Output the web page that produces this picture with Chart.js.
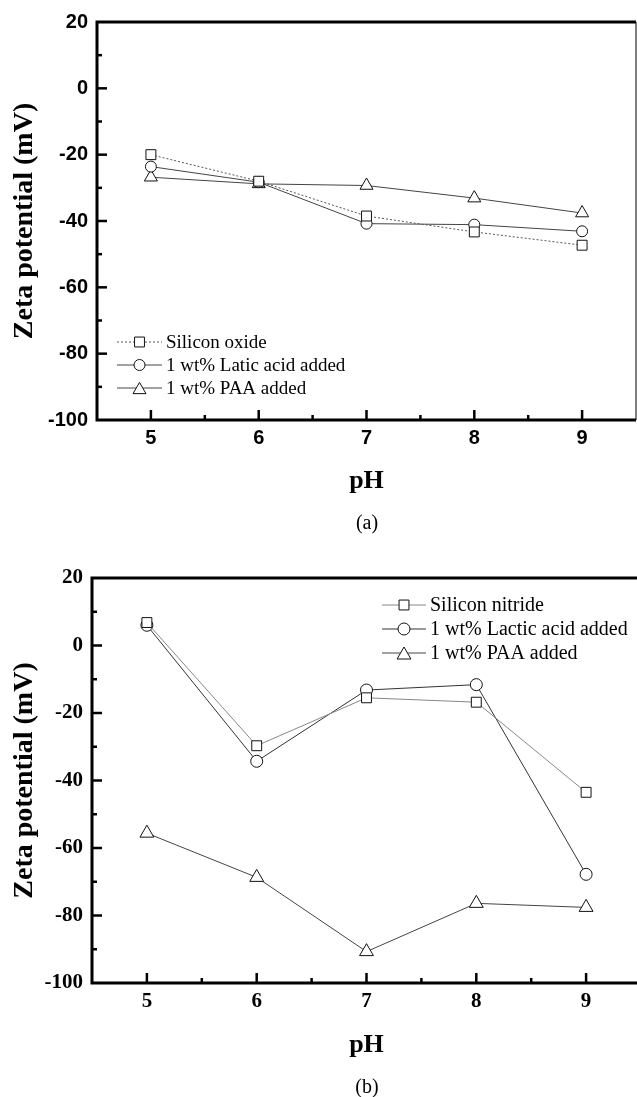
<!DOCTYPE html>
<html>
<head>
<meta charset="utf-8">
<script src="https://cdn.jsdelivr.net/npm/chart.js@4/dist/chart.umd.min.js"></script>
<style>
  html, body { margin: 0; padding: 0; background: #fff; overflow: hidden; }
  canvas { position: absolute; left: 0; }
  #chartA { top: 0; }
  #chartB { top: 556px; }
  .cap { position: absolute; width: 100px; text-align: center; font-family: "Liberation Serif"; font-size: 20px; line-height: 24px; color: #000; }
</style>
</head>
<body>
<canvas id="chartA" width="645" height="540"></canvas>
<canvas id="chartB" width="650" height="541"></canvas>
<div class="cap" style="left:317px; top:510px;">(a)</div>
<div class="cap" style="left:317px; top:1074px;">(b)</div>
<script>
// pH values (x)
const phValues = [5, 6, 7, 8, 9];

// (a) silicon oxide
const oxideBare = [-20, -28, -38.5, -43.3, -47.3];
const oxideLactic = [-23.6, -28.3, -40.8, -41.1, -43.1];
const oxidePAA = [-26.8, -28.8, -29.3, -33.1, -37.6];

// (b) silicon nitride
const nitrideBare = [6.8, -29.7, -15.5, -16.8, -43.5];
const nitrideLactic = [6.0, -34.3, -13.2, -11.6, -67.8];
const nitridePAA = [-55.6, -68.7, -90.7, -76.4, -77.6];

const namesA = ['Silicon oxide', '1 wt% Latic acid added', '1 wt% PAA added'];
const namesB = ['Silicon nitride', '1 wt% Lactic acid added', '1 wt% PAA added'];

// labelled ticks
const phTicks = [5, 6, 7, 8, 9];
const zetaTicks = [20, 0, -20, -40, -60, -80, -100];

function series(label, values, style, radius, color, dash) {
  return {
    label: label,
    data: phValues.map((x, i) => ({ x: x, y: values[i] })),
    showLine: true,
    tension: 0,
    borderColor: color,
    borderWidth: 1,
    borderDash: dash || [],
    pointStyle: style,
    pointRadius: radius,
    pointHoverRadius: radius,
    pointBorderColor: '#111',
    pointBackgroundColor: '#fff',
    pointBorderWidth: 1
  };
}

// marker used in the legend rows
function marker(ctx, style, r, cx, cy) {
  ctx.beginPath();
  if (style === 'rect') {
    const h = r * Math.SQRT1_2;
    ctx.rect(cx - h, cy - h, 2 * h, 2 * h);
  } else if (style === 'circle') {
    ctx.arc(cx, cy, r, 0, Math.PI * 2);
  } else {
    cy += r / 4;
    ctx.moveTo(cx, cy - r);
    ctx.lineTo(cx + r * 0.866, cy + r / 2);
    ctx.lineTo(cx - r * 0.866, cy + r / 2);
    ctx.closePath();
  }
  ctx.fill();
  ctx.stroke();
}

// frame and inward ticks
const frameTicks = {
  id: 'frameTicks',
  afterDraw(chart) {
    const { ctx, chartArea: a, scales: { x, y } } = chart;
    ctx.save();
    ctx.strokeStyle = '#000';
    ctx.lineWidth = 2.5;
    y.ticks.forEach(t => {
      if (t.value <= y.min || t.value >= y.max) return;
      const py = y.getPixelForValue(t.value);
      const len = zetaTicks.includes(t.value) ? 10 : 5;
      ctx.beginPath();
      ctx.moveTo(a.left, py);
      ctx.lineTo(a.left + len, py);
      ctx.stroke();
    });
    x.ticks.forEach(t => {
      if (t.value <= x.min || t.value >= x.max) return;
      const px = x.getPixelForValue(t.value);
      const len = phTicks.includes(t.value) ? 10 : 5;
      ctx.beginPath();
      ctx.moveTo(px, a.bottom);
      ctx.lineTo(px, a.bottom - len);
      ctx.stroke();
    });
    // thin right side, thick left / top / bottom
    ctx.lineWidth = 1;
    ctx.beginPath();
    ctx.moveTo(a.right, a.top);
    ctx.lineTo(a.right, a.bottom);
    ctx.stroke();
    ctx.lineWidth = 3;
    ctx.beginPath();
    ctx.moveTo(a.right, a.top);
    ctx.lineTo(a.left, a.top);
    ctx.lineTo(a.left, a.bottom);
    ctx.lineTo(a.right, a.bottom);
    ctx.stroke();
    ctx.restore();
  }
};

// legend drawn inside the plot: line - marker - line, then text
const insideLegend = {
  id: 'insideLegend',
  afterDatasetsDraw(chart, args, opts) {
    const ctx = chart.ctx;
    ctx.save();
    chart.data.datasets.forEach((ds, i) => {
      const y = opts.y + i * opts.gap;
      ctx.strokeStyle = ds.borderColor;
      ctx.lineWidth = 1;
      ctx.setLineDash(ds.borderDash);
      ctx.beginPath();
      ctx.moveTo(opts.x, y);
      ctx.lineTo(opts.x + opts.lineLen, y);
      ctx.stroke();
      ctx.setLineDash([]);
      ctx.fillStyle = '#fff';
      ctx.strokeStyle = '#111';
      marker(ctx, ds.pointStyle, ds.pointRadius, opts.x + opts.lineLen / 2, y);
      ctx.fillStyle = '#000';
      ctx.font = opts.font;
      ctx.textBaseline = 'middle';
      ctx.fillText(ds.label, opts.x + opts.lineLen + 4, y + 1);
    });
    ctx.restore();
  }
};

function makeChart(id, datasets, cfg) {
  return new Chart(document.getElementById(id), {
    type: 'scatter',
    data: { datasets: datasets },
    options: {
      responsive: false,
      animation: false,
      events: [],
      layout: { padding: cfg.padding },
      plugins: {
        legend: { display: false },
        tooltip: { enabled: false },
        insideLegend: cfg.legend
      },
      scales: {
        x: {
          type: 'linear',
          min: 4.5,
          max: 9.5,
          grid: { display: false, drawTicks: false },
          border: { display: false },
          ticks: {
            stepSize: 0.5,
            autoSkip: false,
            maxRotation: 0,
            padding: cfg.xPad,
            color: '#000',
            font: cfg.tickFont,
            callback: v => phTicks.includes(v) ? v : ''
          },
          title: {
            display: true,
            text: 'pH',
            color: '#000',
            font: { family: 'Liberation Serif', size: 26, weight: 'bold' },
            padding: { top: 0, bottom: cfg.xTitlePad }
          },
          afterFit: s => { s.height = cfg.xHeight; }
        },
        y: {
          min: -100,
          max: 20,
          grid: { display: false, drawTicks: false },
          border: { display: false },
          ticks: {
            stepSize: 10,
            autoSkip: false,
            padding: 9,
            color: '#000',
            font: cfg.tickFont,
            callback: v => zetaTicks.includes(v) ? v : ''
          },
          title: {
            display: true,
            text: 'Zeta potential (mV)',
            color: '#000',
            font: { family: 'Liberation Serif', size: 28, weight: 'bold' },
            padding: { top: cfg.yTitlePad, bottom: 0 }
          },
          afterFit: s => { s.width = cfg.yWidth; }
        }
      }
    },
    plugins: [frameTicks, insideLegend]
  });
}

makeChart('chartA', [
  series(namesA[0], oxideBare, 'rect', 7, '#555', [2, 2]),
  series(namesA[1], oxideLactic, 'circle', 5.5, '#444'),
  series(namesA[2], oxidePAA, 'triangle', 7.5, '#444')
], {
  padding: { left: 0, top: 22, right: 9, bottom: 40 },
  yWidth: 97,
  xHeight: 80,
  xPad: 6,
  xTitlePad: 3,
  yTitlePad: 8,
  tickFont: { family: 'Liberation Sans', size: 20, weight: 'bold' },
  legend: { x: 117, y: 342, gap: 23, lineLen: 45, font: '19px "Liberation Serif"' }
});

makeChart('chartB', [
  series(namesB[0], nitrideBare, 'rect', 7, '#888'),
  series(namesB[1], nitrideLactic, 'circle', 6, '#333'),
  series(namesB[2], nitridePAA, 'triangle', 8, '#444')
], {
  padding: { left: 0, top: 22, right: 8, bottom: 34 },
  yWidth: 92,
  xHeight: 80,
  xPad: 6,
  xTitlePad: 2,
  yTitlePad: 8,
  tickFont: { family: 'Liberation Serif', size: 21, weight: 'bold' },
  legend: { x: 382, y: 49, gap: 24, lineLen: 44, font: '20px "Liberation Serif"' }
});
</script>
</body>
</html>
